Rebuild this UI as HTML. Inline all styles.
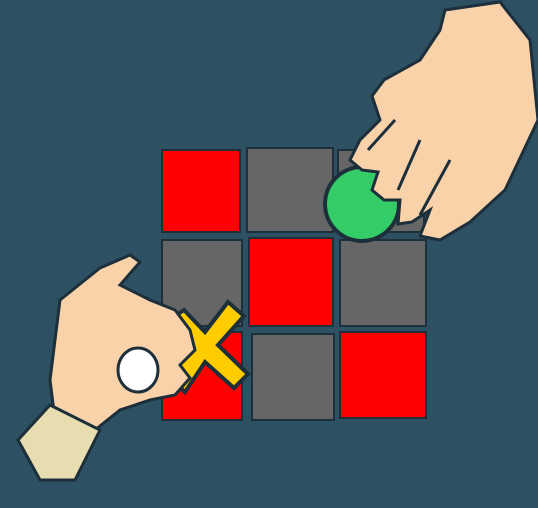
<!DOCTYPE html>
<html><head><meta charset="utf-8"><style>
html,body{margin:0;padding:0;background:#2d5063;}
svg{display:block}
</style></head><body>
<svg width="538" height="508" viewBox="0 0 538 508">
<rect width="538" height="508" fill="#2d5063"/>
<g stroke="#1c2f3a" stroke-width="2">
<rect x="162" y="150" width="78" height="82" fill="#ff0000"/>
<rect x="247" y="148" width="86" height="84" fill="#666666"/>
<rect x="338" y="150" width="86" height="82" fill="#666666"/>
<rect x="162" y="240" width="80" height="86" fill="#666666"/>
<rect x="249" y="238" width="84" height="88" fill="#ff0000"/>
<rect x="340" y="240" width="86" height="86" fill="#666666"/>
<rect x="162" y="332" width="80" height="88" fill="#ff0000"/>
<rect x="252" y="334" width="82" height="86" fill="#666666"/>
<rect x="340" y="332" width="86" height="86" fill="#ff0000"/>
</g>
<g>
<ellipse cx="362" cy="204" rx="37" ry="37" fill="#33cc66" stroke="#1c2f3a" stroke-width="4"/>
</g>
<g stroke="#1c2f3a" stroke-width="3" fill="#fad2aa">
<path d="M420 60 L440 30 L445 10 L500 2 L530 40 L538 120 L505 190 L470 222 L440 240 L420 236 L430 210 L412 222 L398 224 L400 200 L384 200 L372 190 L378 172 L362 170 L350 160 L360 140 L380 120 L372 96 L384 80 Z"/>
<path d="M368 150 L395 120" fill="none"/>
<path d="M398 190 L420 140" fill="none"/>
<path d="M420 215 L450 160" fill="none"/>
</g>
<g fill="#ffcc00" stroke="#1c2f3a" stroke-width="4">
<path d="M166 322 L184 310 L205 332 L228 302 L244 316 L218 345 L248 374 L234 388 L205 362 L185 392 L170 378 L192 347 Z"/>
</g>
<g stroke="#1c2f3a" stroke-width="3">
<path d="M60 300 L100 268 L130 255 L140 262 L120 285 L150 300 L175 310 L190 330 L195 350 L180 365 L190 378 L175 395 L150 400 L120 410 L95 430 L55 420 L50 380 Z" fill="#fad2aa"/>
<ellipse cx="138" cy="370" rx="20" ry="22" fill="#ffffff"/>
<path d="M18 440 L50 405 L100 430 L75 480 L40 480 Z" fill="#e8ddb0"/>
</g>
</svg>
</body></html>
